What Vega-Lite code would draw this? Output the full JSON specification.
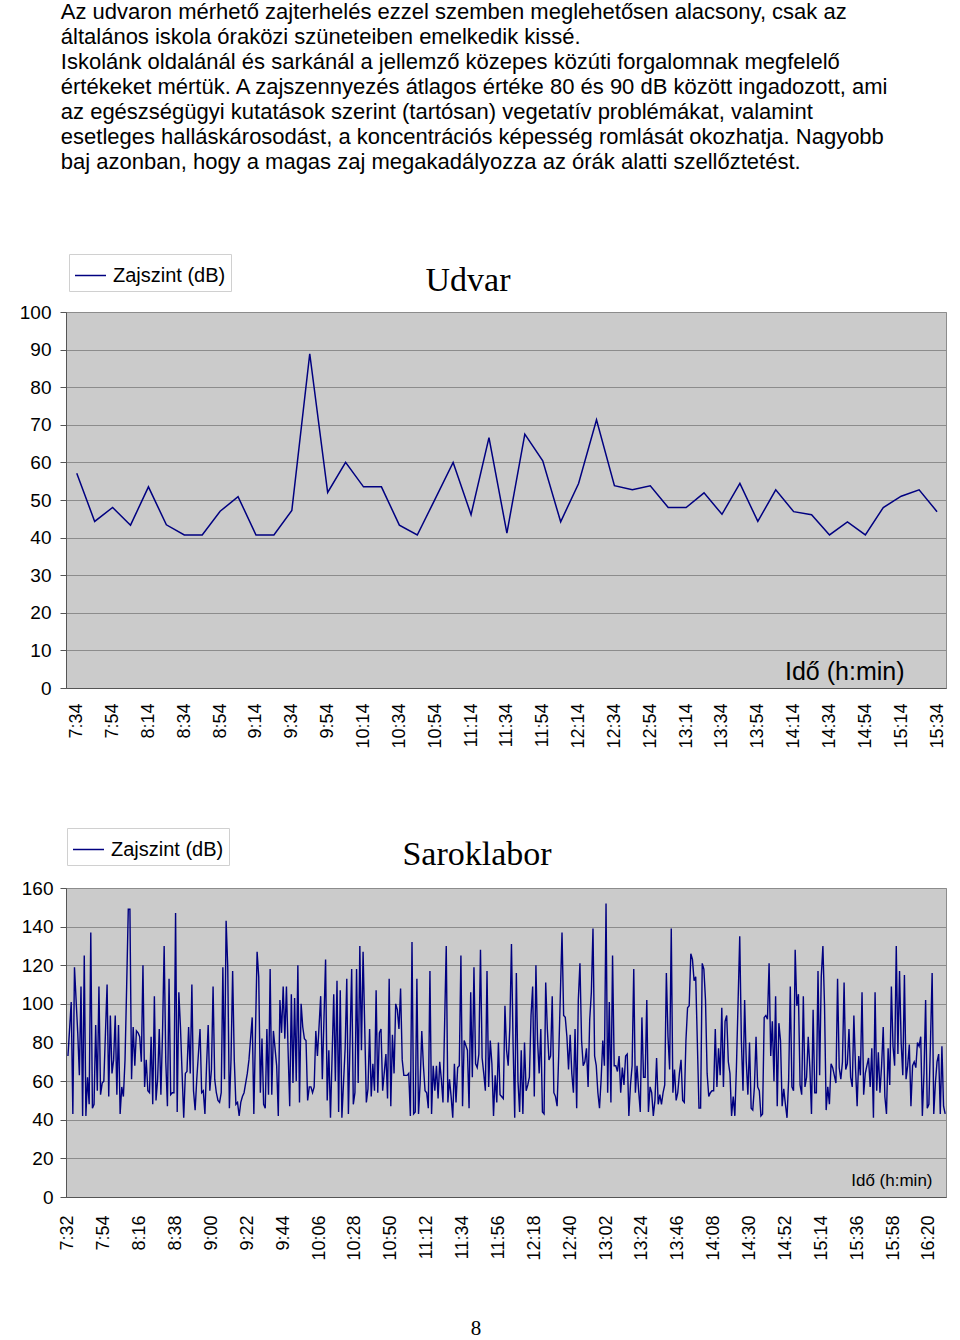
{
  "$schema": "https://vega.github.io/schema/vega-lite/v6.json",
  "background": "white",
  "padding": {"left": 18, "top": 1, "right": 0, "bottom": 0},
  "title": {
    "text": [
      "Az udvaron mérhető zajterhelés ezzel szemben meglehetősen alacsony, csak az",
      "általános iskola óraközi szüneteiben emelkedik kissé.",
      "Iskolánk oldalánál és sarkánál a jellemző közepes közúti forgalomnak megfelelő",
      "értékeket mértük. A zajszennyezés átlagos értéke 80 és 90 dB között ingadozott, ami",
      "az egészségügyi kutatások szerint (tartósan) vegetatív problémákat, valamint",
      "esetleges halláskárosodást, a koncentrációs képesség romlását okozhatja. Nagyobb",
      "baj azonban, hogy a magas zaj megakadályozza az órák alatti szellőztetést."
    ],
    "anchor": "start",
    "frame": "bounds",
    "font": "Liberation Sans",
    "fontSize": 22,
    "fontWeight": "normal",
    "lineHeight": 25,
    "color": "black",
    "offset": 79,
    "dx": 42
  },
  "spacing": 78,
  "align": "each",
  "resolve": {"scale": {"color": "independent"}, "legend": {"color": "independent"}},
  "datasets": {
    "udvar": [
      {"m":454,"v":57.1},{"m":464,"v":44.3},{"m":474,"v":48},{"m":484,"v":43.3},{"m":494,"v":53.5},
      {"m":504,"v":43.4},{"m":514,"v":40.7},{"m":524,"v":40.7},{"m":534,"v":47},{"m":544,"v":50.9},
      {"m":554,"v":40.7},{"m":564,"v":40.7},{"m":574,"v":47.2},{"m":584,"v":88.9},{"m":594,"v":52},
      {"m":604,"v":60},{"m":614,"v":53.5},{"m":624,"v":53.5},{"m":634,"v":43.3},{"m":644,"v":40.7},
      {"m":654,"v":50.3},{"m":664,"v":60},{"m":674,"v":46.1},{"m":684,"v":66.6},{"m":694,"v":41.2},
      {"m":704,"v":67.5},{"m":714,"v":60.4},{"m":724,"v":44.2},{"m":734,"v":54.4},{"m":744,"v":71.3},
      {"m":754,"v":53.8},{"m":764,"v":52.7},{"m":774,"v":53.8},{"m":784,"v":48},{"m":794,"v":48},
      {"m":804,"v":51.9},{"m":814,"v":46.2},{"m":824,"v":54.4},{"m":834,"v":44.3},{"m":844,"v":52.7},
      {"m":854,"v":46.9},{"m":864,"v":46.1},{"m":874,"v":40.7},{"m":884,"v":44.2},{"m":894,"v":40.7},
      {"m":904,"v":48},{"m":914,"v":51},{"m":924,"v":52.7},{"m":934,"v":46.9}
    ],
    "sarok": [
      {"m":452,"v":73},{"m":454,"v":101},{"m":455,"v":43},{"m":456,"v":119},{"m":458,"v":85},{"m":459,"v":63},{"m":460,"v":109},{"m":461,"v":42},{"m":462,"v":125},{"m":463,"v":42},
      {"m":464,"v":62},{"m":465,"v":48},{"m":466,"v":137},{"m":467,"v":46},{"m":468,"v":48},{"m":469,"v":89},{"m":470,"v":55},{"m":471,"v":109},{"m":472,"v":53},{"m":473,"v":59},
      {"m":474,"v":60},{"m":475,"v":85},{"m":476,"v":110},{"m":477,"v":52},{"m":478,"v":94},{"m":479,"v":64},{"m":480,"v":71},{"m":481,"v":94},{"m":482,"v":53},{"m":483,"v":89},
      {"m":484,"v":43},{"m":485,"v":57},{"m":486,"v":52},{"m":487,"v":71},{"m":488,"v":109},{"m":489,"v":149},{"m":490,"v":149},{"m":491,"v":61},{"m":492,"v":88},{"m":493,"v":68},
      {"m":494,"v":86},{"m":495,"v":85},{"m":496,"v":83},{"m":497,"v":70},{"m":498,"v":120},{"m":499,"v":57},{"m":500,"v":71},{"m":501,"v":55},{"m":502,"v":54},{"m":503,"v":83},
      {"m":504,"v":48},{"m":505,"v":104},{"m":506,"v":50},{"m":507,"v":61},{"m":508,"v":87},{"m":509,"v":53},{"m":510,"v":85},{"m":511,"v":130},{"m":512,"v":70},{"m":513,"v":47},
      {"m":514,"v":113},{"m":515,"v":53},{"m":516,"v":54},{"m":517,"v":54},{"m":518,"v":147},{"m":519,"v":44},{"m":520,"v":106},{"m":521,"v":88},{"m":522,"v":64},{"m":523,"v":41},
      {"m":524,"v":64},{"m":525,"v":65},{"m":526,"v":88},{"m":527,"v":64},{"m":528,"v":110},{"m":529,"v":55},{"m":530,"v":45},{"m":531,"v":61},{"m":533,"v":87},{"m":534,"v":54},
      {"m":535,"v":55},{"m":536,"v":43},{"m":537,"v":68},{"m":538,"v":89},{"m":539,"v":55},{"m":540,"v":66},{"m":541,"v":109},{"m":542,"v":61},{"m":543,"v":54},{"m":544,"v":50},
      {"m":545,"v":49},{"m":546,"v":54},{"m":547,"v":119},{"m":548,"v":61},{"m":549,"v":143},{"m":550,"v":119},{"m":551,"v":46},{"m":552,"v":71},{"m":553,"v":117},{"m":554,"v":71},
      {"m":555,"v":48},{"m":556,"v":49},{"m":557,"v":42},{"m":558,"v":49},
      {"m":559,"v":52},{"m":560,"v":54},{"m":562,"v":64},{"m":563,"v":71},{"m":565,"v":93},{"m":566,"v":43},{"m":568,"v":127},{"m":569,"v":114},{"m":570,"v":54},{"m":571,"v":82},
      {"m":572,"v":48},{"m":573,"v":46},{"m":574,"v":87},{"m":575,"v":53},{"m":576,"v":118},{"m":577,"v":53},{"m":578,"v":86},{"m":580,"v":68},{"m":581,"v":42},{"m":582,"v":102},
      {"m":583,"v":85},{"m":584,"v":109},{"m":585,"v":82},{"m":586,"v":109},{"m":587,"v":76},{"m":588,"v":47},{"m":589,"v":105},{"m":590,"v":59},{"m":591,"v":103},{"m":592,"v":60},
      {"m":593,"v":120},{"m":594,"v":49},{"m":595,"v":100},{"m":596,"v":88},{"m":597,"v":82},{"m":598,"v":81},{"m":599,"v":50},{"m":600,"v":57},{"m":601,"v":57},{"m":602,"v":54},
      {"m":603,"v":57},{"m":604,"v":86},{"m":605,"v":73},{"m":607,"v":104},{"m":608,"v":61},{"m":610,"v":123},{"m":611,"v":50},{"m":612,"v":76},{"m":613,"v":41},{"m":615,"v":105},
      {"m":616,"v":60},{"m":617,"v":112},{"m":618,"v":44},{"m":619,"v":107},{"m":620,"v":41},{"m":622,"v":77},{"m":623,"v":113},{"m":624,"v":43},{"m":626,"v":118},{"m":627,"v":48},
      {"m":628,"v":54},{"m":629,"v":118},{"m":630,"v":59},{"m":631,"v":130},{"m":632,"v":76},{"m":633,"v":127},{"m":635,"v":49},{"m":636,"v":56},{"m":637,"v":87},{"m":638,"v":52},
      {"m":639,"v":69},{"m":640,"v":55},{"m":641,"v":107},{"m":642,"v":54},{"m":643,"v":85},{"m":644,"v":87},{"m":645,"v":55},{"m":647,"v":74},{"m":648,"v":51},{"m":649,"v":113},
      {"m":650,"v":47},{"m":651,"v":84},{"m":652,"v":64},{"m":653,"v":100},{"m":654,"v":97},{"m":655,"v":87},{"m":656,"v":108},{"m":657,"v":71},{"m":658,"v":63},{"m":660,"v":63},
      {"m":661,"v":64},{"m":662,"v":42},{"m":663,"v":132},{"m":664,"v":43},{"m":665,"v":44},
      {"m":666,"v":113},{"m":667,"v":43},{"m":668,"v":59},{"m":669,"v":86},{"m":670,"v":68},{"m":671,"v":55},{"m":672,"v":54},{"m":673,"v":46},{"m":674,"v":117},{"m":675,"v":43},
      {"m":676,"v":68},{"m":677,"v":55},{"m":678,"v":68},{"m":679,"v":51},{"m":680,"v":70},{"m":681,"v":61},{"m":682,"v":49},{"m":684,"v":130},{"m":685,"v":49},{"m":686,"v":61},
      {"m":687,"v":52},{"m":688,"v":41},{"m":689,"v":69},{"m":690,"v":49},{"m":691,"v":67},{"m":692,"v":68},{"m":693,"v":125},{"m":694,"v":47},{"m":695,"v":81},{"m":697,"v":76},
      {"m":698,"v":46},{"m":699,"v":106},{"m":700,"v":62},{"m":701,"v":119},{"m":702,"v":69},{"m":703,"v":67},{"m":704,"v":74},{"m":705,"v":128},{"m":706,"v":72},{"m":707,"v":64},
      {"m":708,"v":55},{"m":709,"v":117},{"m":710,"v":57},{"m":711,"v":81},{"m":712,"v":69},{"m":713,"v":42},{"m":714,"v":63},{"m":715,"v":49},{"m":716,"v":80},{"m":717,"v":53},
      {"m":719,"v":51},{"m":720,"v":99},{"m":721,"v":76},{"m":722,"v":68},{"m":723,"v":88},{"m":724,"v":131},{"m":725,"v":79},{"m":726,"v":41},{"m":727,"v":116},{"m":728,"v":60},
      {"m":729,"v":44},{"m":730,"v":76},{"m":731,"v":43},{"m":732,"v":80},{"m":733,"v":55},{"m":734,"v":58},{"m":735,"v":62},{"m":736,"v":94},{"m":737,"v":109},{"m":738,"v":52},
      {"m":739,"v":120},{"m":740,"v":81},{"m":741,"v":64},{"m":742,"v":87},{"m":743,"v":44},{"m":744,"v":43},{"m":745,"v":111},{"m":746,"v":87},{"m":747,"v":71},{"m":748,"v":73},
      {"m":749,"v":104},{"m":750,"v":54},{"m":751,"v":52},{"m":752,"v":47},{"m":753,"v":74},{"m":755,"v":137},{"m":756,"v":94},{"m":757,"v":93},{"m":758,"v":83},{"m":759,"v":66},
      {"m":760,"v":84},{"m":761,"v":64},{"m":762,"v":54},{"m":763,"v":87},{"m":764,"v":46},{"m":765,"v":102},{"m":766,"v":121},{"m":767,"v":81},{"m":768,"v":68},{"m":769,"v":70},
      {"m":770,"v":77},{"m":771,"v":57},{"m":772,"v":92},{"m":773,"v":106},
      {"m":774,"v":139},{"m":775,"v":73},{"m":776,"v":68},{"m":777,"v":54},{"m":778,"v":46},{"m":779,"v":61},{"m":780,"v":81},{"m":781,"v":68},{"m":782,"v":152},{"m":783,"v":54},
      {"m":784,"v":101},{"m":785,"v":49},{"m":786,"v":125},{"m":787,"v":68},{"m":788,"v":68},{"m":789,"v":65},{"m":790,"v":73},{"m":791,"v":54},{"m":792,"v":67},{"m":793,"v":58},
      {"m":794,"v":73},{"m":795,"v":74},{"m":796,"v":42},{"m":797,"v":58},{"m":798,"v":68},{"m":799,"v":118},{"m":800,"v":54},{"m":801,"v":68},{"m":802,"v":55},{"m":803,"v":44},
      {"m":804,"v":93},{"m":805,"v":62},{"m":806,"v":62},{"m":807,"v":102},{"m":808,"v":44},{"m":809,"v":57},{"m":810,"v":54},{"m":811,"v":42},{"m":812,"v":50},{"m":813,"v":72},
      {"m":814,"v":48},{"m":815,"v":53},{"m":816,"v":48},{"m":817,"v":54},{"m":818,"v":58},{"m":819,"v":116},{"m":820,"v":83},{"m":821,"v":66},{"m":822,"v":139},{"m":823,"v":54},
      {"m":824,"v":66},{"m":825,"v":50},{"m":826,"v":54},{"m":827,"v":64},{"m":828,"v":71},{"m":829,"v":50},{"m":830,"v":49},{"m":831,"v":81},{"m":832,"v":98},{"m":833,"v":99},
      {"m":834,"v":126},{"m":835,"v":123},{"m":836,"v":112},{"m":837,"v":114},{"m":838,"v":80},{"m":839,"v":46},{"m":840,"v":46},{"m":841,"v":121},{"m":842,"v":118},{"m":843,"v":102},
      {"m":844,"v":64},{"m":845,"v":52},{"m":846,"v":54},{"m":847,"v":55},{"m":848,"v":55},{"m":849,"v":87},{"m":850,"v":57},{"m":851,"v":77},{"m":852,"v":63},{"m":853,"v":98},
      {"m":854,"v":57},{"m":855,"v":91},{"m":856,"v":94},{"m":857,"v":70},{"m":858,"v":64},{"m":859,"v":42},{"m":860,"v":52},{"m":861,"v":42},{"m":862,"v":68},{"m":864,"v":135},
      {"m":865,"v":81},{"m":866,"v":55},{"m":867,"v":102},{"m":868,"v":70},{"m":869,"v":53},{"m":870,"v":80},{"m":871,"v":46},{"m":872,"v":45},{"m":873,"v":57},{"m":874,"v":83},
      {"m":875,"v":57},{"m":876,"v":55},{"m":877,"v":42},{"m":878,"v":43},{"m":879,"v":93},{"m":880,"v":94},
      {"m":881,"v":92},{"m":882,"v":121},{"m":883,"v":73},{"m":884,"v":91},{"m":885,"v":60},{"m":886,"v":104},{"m":887,"v":47},{"m":888,"v":90},{"m":889,"v":81},{"m":890,"v":47},
      {"m":891,"v":56},{"m":892,"v":48},{"m":893,"v":41},{"m":894,"v":61},{"m":895,"v":109},{"m":896,"v":57},{"m":897,"v":55},{"m":898,"v":128},{"m":899,"v":99},{"m":900,"v":105},
      {"m":901,"v":58},{"m":902,"v":53},{"m":903,"v":104},{"m":904,"v":57},{"m":905,"v":62},{"m":906,"v":83},{"m":907,"v":67},{"m":908,"v":43},{"m":909,"v":97},{"m":910,"v":54},
      {"m":911,"v":54},{"m":912,"v":117},{"m":913,"v":63},{"m":914,"v":114},{"m":915,"v":130},{"m":916,"v":99},{"m":917,"v":45},{"m":918,"v":57},{"m":919,"v":48},{"m":920,"v":69},
      {"m":921,"v":67},{"m":922,"v":63},{"m":923,"v":59},{"m":924,"v":113},{"m":925,"v":67},{"m":926,"v":61},{"m":927,"v":70},{"m":928,"v":111},{"m":929,"v":66},{"m":930,"v":69},
      {"m":931,"v":87},{"m":932,"v":62},{"m":933,"v":57},{"m":934,"v":94},{"m":935,"v":67},{"m":936,"v":47},{"m":937,"v":73},{"m":938,"v":63},{"m":939,"v":106},{"m":940,"v":53},
      {"m":941,"v":64},{"m":942,"v":68},{"m":943,"v":72},{"m":944,"v":57},{"m":945,"v":77},{"m":946,"v":41},{"m":947,"v":106},{"m":948,"v":55},{"m":949,"v":75},{"m":950,"v":54},
      {"m":951,"v":68},{"m":952,"v":88},{"m":953,"v":52},{"m":954,"v":43},{"m":955,"v":77},{"m":956,"v":58},{"m":957,"v":109},{"m":958,"v":78},{"m":959,"v":68},{"m":960,"v":130},
      {"m":961,"v":74},{"m":962,"v":117},{"m":963,"v":80},{"m":964,"v":63},{"m":965,"v":115},{"m":966,"v":61},{"m":967,"v":68},{"m":968,"v":79},{"m":969,"v":47},{"m":970,"v":68},
      {"m":971,"v":70},{"m":972,"v":67},{"m":973,"v":80},{"m":974,"v":78},{"m":975,"v":83},{"m":976,"v":42},{"m":977,"v":64},{"m":978,"v":102},{"m":979,"v":46},{"m":980,"v":48},
      {"m":981,"v":81},{"m":982,"v":116},{"m":983,"v":43},{"m":984,"v":59},{"m":985,"v":70},{"m":986,"v":74},{"m":987,"v":43},{"m":988,"v":78},{"m":989,"v":47},{"m":990,"v":43}
    ],
    "page": [{"n": "8"}]
  },
  "vconcat": [
    {
      "width": 880,
      "height": 376,
      "data": {"name": "udvar"},
      "view": {"fill": "#cbcbcb", "stroke": "#8c8c8c"},
      "title": {"text": "Udvar", "font": "Liberation Serif", "fontSize": 34, "fontWeight": "normal", "color": "black", "anchor": "middle", "frame": "group", "dx": -38, "offset": -44},
      "mark": {"type": "line", "strokeWidth": 1.5, "clip": true},
      "encoding": {
        "x": {
          "field": "m", "type": "quantitative",
          "scale": {"domain": [448, 939], "nice": false, "zero": false},
          "axis": {
            "values": [454,474,494,514,534,554,574,594,614,634,654,674,694,714,734,754,774,794,814,834,854,874,894,914,934],
            "labelExpr": "floor(datum.value/60) + ':' + (datum.value % 60 < 10 ? '0' : '') + (datum.value % 60)",
            "labelAngle": -90, "labelFontSize": 18, "labelPadding": 15, "ticks": false, "grid": false,
            "title": "Idő (h:min)", "titleFontSize": 25, "titleFontWeight": "normal",
            "titleAnchor": "end", "titleAlign": "right", "titleBaseline": "alphabetic", "titleX": 838, "titleY": -9
          }
        },
        "y": {
          "field": "v", "type": "quantitative",
          "scale": {"domain": [0, 100], "nice": false},
          "axis": {"values": [0,10,20,30,40,50,60,70,80,90,100], "title": null, "labelFontSize": 19, "labelPadding": 9, "tickSize": 6}
        },
        "color": {
          "datum": "Zajszint (dB)", "type": "nominal",
          "scale": {"range": ["#000080"]},
          "legend": {"orient": "none", "legendX": 3, "legendY": -58}
        }
      }
    },
    {
      "width": 880,
      "height": 309,
      "view": {"fill": "#cbcbcb", "stroke": "#8c8c8c"},
      "title": {"text": "Saroklabor", "font": "Liberation Serif", "fontSize": 34, "fontWeight": "normal", "color": "black", "anchor": "middle", "frame": "group", "dx": -29, "offset": -44},
      "layer": [
        {
          "data": {"name": "sarok"},
          "mark": {"type": "line", "strokeWidth": 1.4, "clip": true},
          "encoding": {
            "x": {
              "field": "m", "type": "quantitative",
              "scale": {"domain": [450.8, 990.5], "nice": false, "zero": false},
              "axis": {
                "values": [452,474,496,518,540,562,584,606,628,650,672,694,716,738,760,782,804,826,848,870,892,914,936,958,980],
                "labelExpr": "floor(datum.value/60) + ':' + (datum.value % 60 < 10 ? '0' : '') + (datum.value % 60)",
                "labelAngle": -90, "labelFontSize": 18, "labelPadding": 18, "ticks": false, "grid": false,
                "title": "Idő (h:min)", "titleFontSize": 17, "titleFontWeight": "normal",
                "titleAnchor": "end", "titleAlign": "right", "titleBaseline": "alphabetic", "titleX": 866, "titleY": -12
              }
            },
            "y": {
              "field": "v", "type": "quantitative",
              "scale": {"domain": [0, 160], "nice": false},
              "axis": {"values": [0,20,40,60,80,100,120,140,160], "title": null, "labelFontSize": 19, "labelPadding": 7, "tickSize": 6}
            },
            "color": {
              "datum": "Zajszint (dB)", "type": "nominal",
              "scale": {"range": ["#000080"]},
              "legend": {"orient": "none", "legendX": 1, "legendY": -60}
            }
          }
        },
        {
          "data": {"name": "page"},
          "mark": {"type": "text", "font": "Liberation Serif", "fontSize": 21, "baseline": "middle", "align": "center", "color": "black", "clip": false},
          "encoding": {
            "x": {
              "datum": 702.3, "type": "quantitative",
              "scale": {"domain": [450.8, 990.5], "nice": false, "zero": false},
              "axis": {
                "values": [452,474,496,518,540,562,584,606,628,650,672,694,716,738,760,782,804,826,848,870,892,914,936,958,980],
                "labelExpr": "floor(datum.value/60) + ':' + (datum.value % 60 < 10 ? '0' : '') + (datum.value % 60)",
                "labelAngle": -90, "labelFontSize": 18, "labelPadding": 18, "ticks": false, "grid": false,
                "title": "Idő (h:min)", "titleFontSize": 17, "titleFontWeight": "normal",
                "titleAnchor": "end", "titleAlign": "right", "titleBaseline": "alphabetic", "titleX": 866, "titleY": -12
              }
            },
            "y": {
              "datum": -68.3, "type": "quantitative",
              "scale": {"domain": [0, 160], "nice": false},
              "axis": {"values": [0,20,40,60,80,100,120,140,160], "title": null, "labelFontSize": 19, "labelPadding": 7, "tickSize": 6}
            },
            "text": {"field": "n"}
          }
        }
      ]
    }
  ],
  "config": {
    "font": "Liberation Sans",
    "axis": {
      "labelFont": "Liberation Sans", "labelColor": "black", "titleFont": "Liberation Sans", "titleColor": "black",
      "domainColor": "#555555", "tickColor": "#555555", "gridColor": "#8c8c8c", "gridOpacity": 1,
      "labelOverlap": false, "labelFlush": false, "labelBound": false
    },
    "legend": {
      "title": null, "symbolType": "stroke", "symbolSize": 961, "symbolStrokeWidth": 1.5,
      "labelFont": "Liberation Sans", "labelFontSize": 20, "labelColor": "black", "labelOffset": 6,
      "strokeColor": "#d0d0d0", "fillColor": "white", "padding": 5
    }
  }
}
